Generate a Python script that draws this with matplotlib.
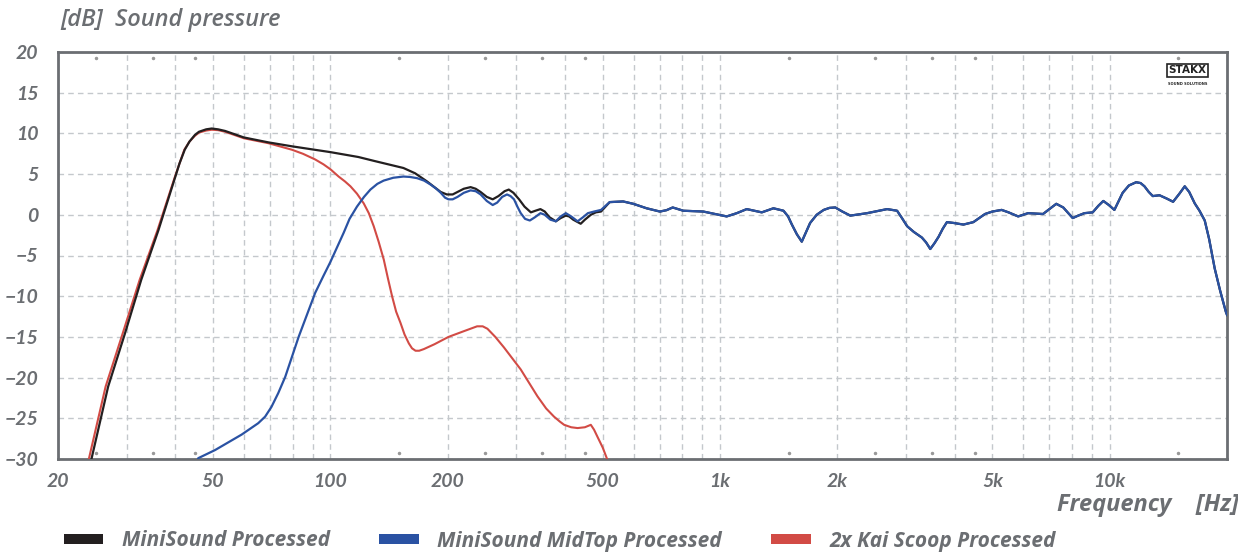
import matplotlib.pyplot as plt
from matplotlib.patches import Patch

# frequency response data (Hz, dB)
black_lo_freq = [23.5, 24.4, 26.9, 29.7, 32.7, 36.2, 39.9, 41.0, 42.3, 43.5, 44.9, 46, 48, 49.6, 51.5,
                 53.7, 56, 60, 69.3, 80, 100, 118, 130, 154, 165, 177, 185, 192, 199, 206, 212, 220,
                 229, 236, 243, 252, 261, 270, 280, 287, 295, 305, 315, 327, 336, 346, 355, 365,
                 379, 390, 402, 410, 420, 439, 450, 466, 480, 495]
black_lo_db = [-33, -29.9, -21.1, -14.6, -8.0, -1.9, 4.5, 6.3, 8.0, 9.0, 9.8, 10.2, 10.5, 10.6, 10.5,
               10.3, 10.0, 9.5, 8.9, 8.4, 7.7, 7.1, 6.6, 5.75, 5.1, 4.1, 3.4, 2.8, 2.5, 2.5, 2.8, 3.2,
               3.4, 3.2, 2.8, 2.2, 1.9, 2.3, 2.9, 3.1, 2.7, 1.9, 1.0, 0.3, 0.5, 0.7, 0.4, -0.3,
               -0.8, -0.4, -0.1, -0.2, -0.6, -1.1, -0.6, 0.0, 0.3, 0.4]

blue_lo_freq = [45.0, 45.8, 50.6, 59.2, 65.3, 68, 70.6, 73.5, 76.6, 82.9, 91.4, 96, 100, 104, 108.2,
                112, 117, 122, 126.7, 132, 137, 145, 154, 160, 167, 174, 181, 187, 192, 197, 201,
                206, 212, 220, 229, 236, 243, 252, 261, 268, 276, 284, 290, 296, 302, 308, 316,
                325, 335, 346, 355, 367, 379, 390, 402, 415, 431, 445, 458, 475, 495]
blue_lo_db = [-31, -29.9, -28.9, -27.0, -25.6, -24.8, -23.6, -21.9, -19.9, -15.0, -9.6, -7.5, -5.8, -4.0, -2.2,
              -0.5, 1.0, 2.2, 3.1, 3.8, 4.2, 4.55, 4.7, 4.65, 4.5, 4.2, 3.7, 3.2, 2.7, 2.1, 1.9,
              1.9, 2.2, 2.7, 3.0, 2.9, 2.5, 1.7, 1.2, 1.5, 2.2, 2.5, 2.3, 1.9, 1.0, 0.2, -0.5,
              -0.7, -0.3, 0.2, 0.0, -0.6, -0.8, -0.2, 0.2, -0.2, -0.8, -0.3, 0.2, 0.4, 0.6]

# shared upper range (both MiniSound curves overlap)
hf_freq = [521, 564, 599, 648, 701, 729, 756, 805, 906, 971, 1040, 1104, 1171, 1280, 1371, 1455,
           1495, 1529, 1575, 1621, 1660, 1703, 1770, 1845, 1910, 1976, 2060, 2160, 2384, 2684,
           2847, 2930, 3021, 3142, 3297, 3380, 3464, 3550, 3638, 3730, 3822, 3973, 4213, 4468,
           4787, 5000, 5281, 5500, 5823, 6171, 6744, 7000, 7293, 7600, 8037, 8300, 8611, 9043,
           9350, 9630, 9950, 10281, 10550, 10796, 11200, 11690, 12000, 12280, 12600, 12900,
           13420, 14000, 14545, 15100, 15580, 16000, 16530, 17000, 17535, 18000, 18600, 19200,
           19860, 20000]
hf_db = [1.56, 1.64, 1.35, 0.8, 0.4, 0.57, 0.9, 0.5, 0.4, 0.1, -0.2, 0.2, 0.7, 0.3, 0.8, 0.5,
         -0.2, -1.2, -2.4, -3.3, -2.2, -1.0, 0.0, 0.6, 0.85, 0.9, 0.4, -0.1, 0.2, 0.7,
         0.5, -0.4, -1.4, -2.1, -2.8, -3.4, -4.2, -3.5, -2.7, -1.7, -0.9, -1.0, -1.2, -0.9,
         0.1, 0.4, 0.6, 0.3, -0.2, 0.2, 0.1, 0.7, 1.35, 0.9, -0.4, -0.1, 0.2, 0.3,
         1.1, 1.7, 1.2, 0.6, 1.7, 2.7, 3.6, 4.0, 3.9, 3.5, 2.8, 2.3,
         2.4, 2.0, 1.6, 2.6, 3.5, 2.8, 1.4, 0.5, -0.7, -3.0, -6.6, -9.3,
         -11.9, -12.3]

red_freq = [23.2, 24.0, 26.5, 29.3, 32.4, 36.0, 39.8, 41.0, 42.2, 43.5, 44.9, 46, 48, 49.6, 51.5,
            53.7, 56, 60, 69.3, 79.6, 85, 91.4, 96, 100, 105, 109, 112.6, 117, 121.8, 125.5,
            129.2, 133, 137.1, 140.5, 144, 147.5, 151.4, 155, 159, 162, 165.4, 169, 173.7, 185,
            201, 220, 238, 246, 253, 265, 279, 308, 340, 358, 375, 388, 398, 415, 431, 450,
            466, 475, 485, 500, 514, 525]
red_db = [-33, -30, -21.1, -14.6, -8.0, -1.9, 4.5, 6.3, 8.0, 9.0, 9.7, 10.1, 10.35, 10.45, 10.4,
          10.2, 9.9, 9.4, 8.8, 8.0, 7.5, 6.8, 6.2, 5.6, 4.7, 4.1, 3.5, 2.6, 1.4, 0.2,
          -1.4, -3.3, -5.5, -7.8, -10.0, -11.9, -13.3, -14.7, -15.8, -16.4, -16.7, -16.7, -16.5, -15.9,
          -15.0, -14.3, -13.7, -13.7, -14.0, -15.0, -16.3, -19.0, -22.3, -23.8, -24.8, -25.4, -25.8, -26.1, -26.2, -26.1,
          -25.8, -26.4, -27.3, -28.6, -30.1, -32]

series_names = ['MiniSound Processed', 'MiniSound MidTop Processed', '2x Kai Scoop Processed']
series_colors = ['#231f20', '#2a52a3', '#d24b45']

x_ticks = [20, 50, 100, 200, 500, 1000, 2000, 5000, 10000]
x_tick_labels = ['20', '50', '100', '200', '500', '1k', '2k', '5k', '10k']
y_ticks = [20, 15, 10, 5, 0, -5, -10, -15, -20, -25, -30]
minor_dots = [25, 35, 45, 150, 250, 350, 450, 1500, 2500, 3500, 4500, 15000]

gray = '#6b6e72'
font = 'Lato'
wide_font = 'Open Sans'

fig = plt.figure(figsize=(12.38, 5.54), dpi=100)
ax = fig.add_axes([58 / 1238, 95 / 554, 1169 / 1238, 407 / 554])

ax.set_xscale('log')
ax.set_xlim(20, 20000)
ax.set_ylim(-30, 20)

# grid
ax.set_xticks([10 ** e * m for e in range(1, 5) for m in range(1, 10)
               if 20 <= 10 ** e * m <= 20000], minor=True)
ax.grid(True, which='both', axis='x', color='#c4c8cc', linestyle=(0, (4, 3)), linewidth=1)
ax.grid(True, which='major', axis='y', color='#c4c8cc', linestyle=(0, (4, 3)), linewidth=1)
ax.set_axisbelow(True)

ax.plot(minor_dots, [0.985] * len(minor_dots), ls='none', marker='o', ms=1.5, color='#999999',
        transform=ax.get_xaxis_transform())
ax.plot(minor_dots, [0.015] * len(minor_dots), ls='none', marker='o', ms=1.5, color='#999999',
        transform=ax.get_xaxis_transform())

ax.plot(red_freq, red_db, color=series_colors[2], lw=1.5, zorder=3)
ax.plot(black_lo_freq + hf_freq, black_lo_db + hf_db, color=series_colors[0], lw=1.6, zorder=4)
ax.plot(blue_lo_freq + hf_freq, blue_lo_db + hf_db, color=series_colors[1], lw=1.6, zorder=5)

ax.set_xticks(x_ticks)
ax.set_xticklabels(x_tick_labels)
ax.set_yticks(y_ticks)
ax.tick_params(which='both', length=0, pad=10, labelsize=14, labelcolor=gray)
ax.tick_params(axis='y', pad=14)
for lab in ax.get_xticklabels() + ax.get_yticklabels():
    lab.set_fontfamily(font)
    lab.set_fontstyle('italic')
    lab.set_fontweight('bold')

for s in ax.spines.values():
    s.set_color(gray)
    s.set_linewidth(2)

# logo
ax.text(0.966, 0.955, 'STAKX', transform=ax.transAxes, ha='center', va='center',
        fontsize=7.5, fontweight='bold', family='DejaVu Sans', color='#222222',
        bbox=dict(boxstyle='square,pad=0.15', fc='white', ec='#222222', lw=1.2))
ax.text(0.966, 0.922, 'SOUND SOLUTIONS', transform=ax.transAxes, ha='center', va='center',
        fontsize=2.6, fontweight='bold', family='DejaVu Sans', color='#222222')

fig.text(60 / 1238, 1 - 20 / 554, '[dB]  Sound pressure', ha='left', va='center', fontsize=17,
         family=wide_font, style='italic', fontweight='semibold', color=gray)
fig.text(1057 / 1238, 1 - 505 / 554, 'Frequency    [Hz]', ha='left', va='center', fontsize=17,
         family=wide_font, style='italic', fontweight='bold', color=gray)

handles = [Patch(facecolor=c, edgecolor='none') for c in series_colors]
leg = fig.legend(handles, series_names, loc='center left', bbox_to_anchor=(45 / 1238, 1 - 541 / 554),
                 ncol=3, frameon=False, handlelength=1.9, handleheight=0.4, handletextpad=0.9,
                 columnspacing=2.35,
                 prop={'family': wide_font, 'style': 'italic', 'weight': 'bold', 'size': 15})
for t in leg.get_texts():
    t.set_color(gray)

fig.savefig('out.png', dpi=100)
